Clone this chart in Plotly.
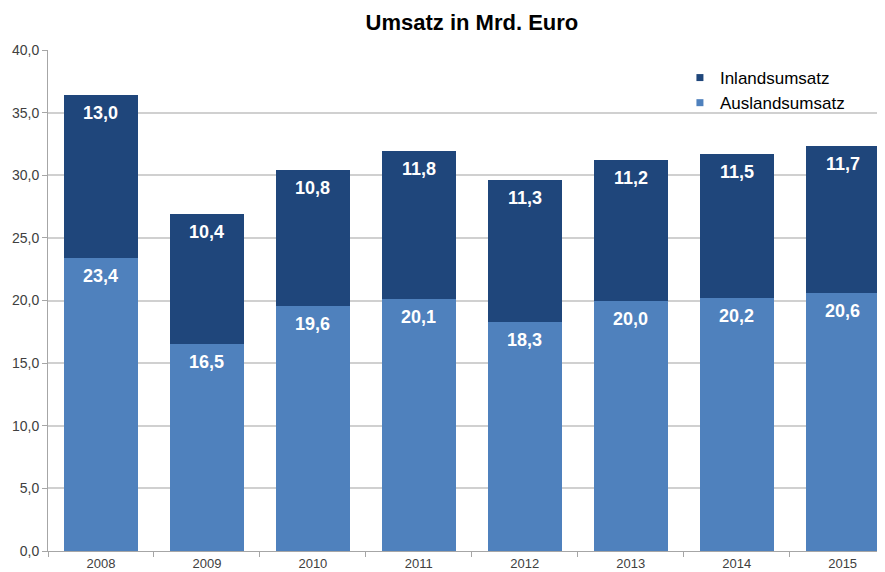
import plotly.graph_objects as go

years = ["2008", "2009", "2010", "2011", "2012", "2013", "2014", "2015"]
ausland = [23.4, 16.5, 19.6, 20.1, 18.3, 20.0, 20.2, 20.6]
inland = [13.0, 10.4, 10.8, 11.8, 11.3, 11.2, 11.5, 11.7]
y_ticks = [0, 5, 10, 15, 20, 25, 30, 35, 40]

DARK = "#1F467B"
LIGHT = "#4F81BD"
FONT = "Liberation Sans, Arial"

def fmt(v):
    return f"{v:.1f}".replace(".", ",")

fig = go.Figure()
fig.add_trace(go.Bar(
    x=years, y=ausland, name="Auslandsumsatz", showlegend=False,
    marker=dict(color=LIGHT, line=dict(width=0)),
))
fig.add_trace(go.Bar(
    x=years, y=inland, name="Inlandsumsatz", showlegend=False,
    marker=dict(color=DARK, line=dict(width=0)),
))
# legend entries with small square markers
fig.add_trace(go.Scatter(x=[None], y=[None], mode="markers", name="Inlandsumsatz",
                         marker=dict(symbol="square", size=7, color=DARK)))
fig.add_trace(go.Scatter(x=[None], y=[None], mode="markers", name="Auslandsumsatz",
                         marker=dict(symbol="square", size=7, color=LIGHT)))

# value labels near the top of each segment (x given as category index)
label_font = dict(color="white", size=18, family=FONT, weight="bold")
for k, (a, i) in enumerate(zip(ausland, inland)):
    fig.add_annotation(x=k, y=a, xref="x", yref="y", text=fmt(a), showarrow=False,
                       yanchor="middle", yshift=-18, font=label_font)
    fig.add_annotation(x=k, y=a + i, xref="x", yref="y", text=fmt(i), showarrow=False,
                       yanchor="middle", yshift=-18, font=label_font)

fig.update_layout(
    width=877, height=564,
    barmode="stack", bargap=0.30,
    separators=",.",
    paper_bgcolor="white", plot_bgcolor="white",
    margin=dict(l=40, r=0, t=42, b=21),
    font=dict(family=FONT, color="#404040", size=13),
    title=dict(text="<b>Umsatz in Mrd. Euro</b>", x=0.529, xanchor="center", y=0.975, yanchor="middle",
               font=dict(size=22, color="#000000", family=FONT)),
    showlegend=True,
    legend=dict(x=0.755, y=0.98, xanchor="left", yanchor="top", traceorder="normal",
                font=dict(size=17, color="#000000"), bgcolor="rgba(0,0,0,0)",
                itemwidth=30, tracegroupgap=0),
)
fig.update_xaxes(
    type="category", range=[-0.5, 7.4], showline=True, linecolor="#A6A6A6", linewidth=1,
    ticks="outside", tickson="boundaries", ticklen=5, tickcolor="#A6A6A6",
    tickfont=dict(size=13, color="#404040"), automargin=False, showgrid=False,
)
fig.update_yaxes(
    range=[0, 40], tickvals=y_ticks, tickformat=".1f",
    showline=True, linecolor="#A6A6A6", linewidth=1,
    ticks="outside", ticklen=5, tickcolor="#A6A6A6",
    showgrid=True, gridcolor="#D0D0D0", gridwidth=2,
    tickfont=dict(size=14, color="#404040"), automargin=False, zeroline=False,
)

fig.write_html("out.html")
